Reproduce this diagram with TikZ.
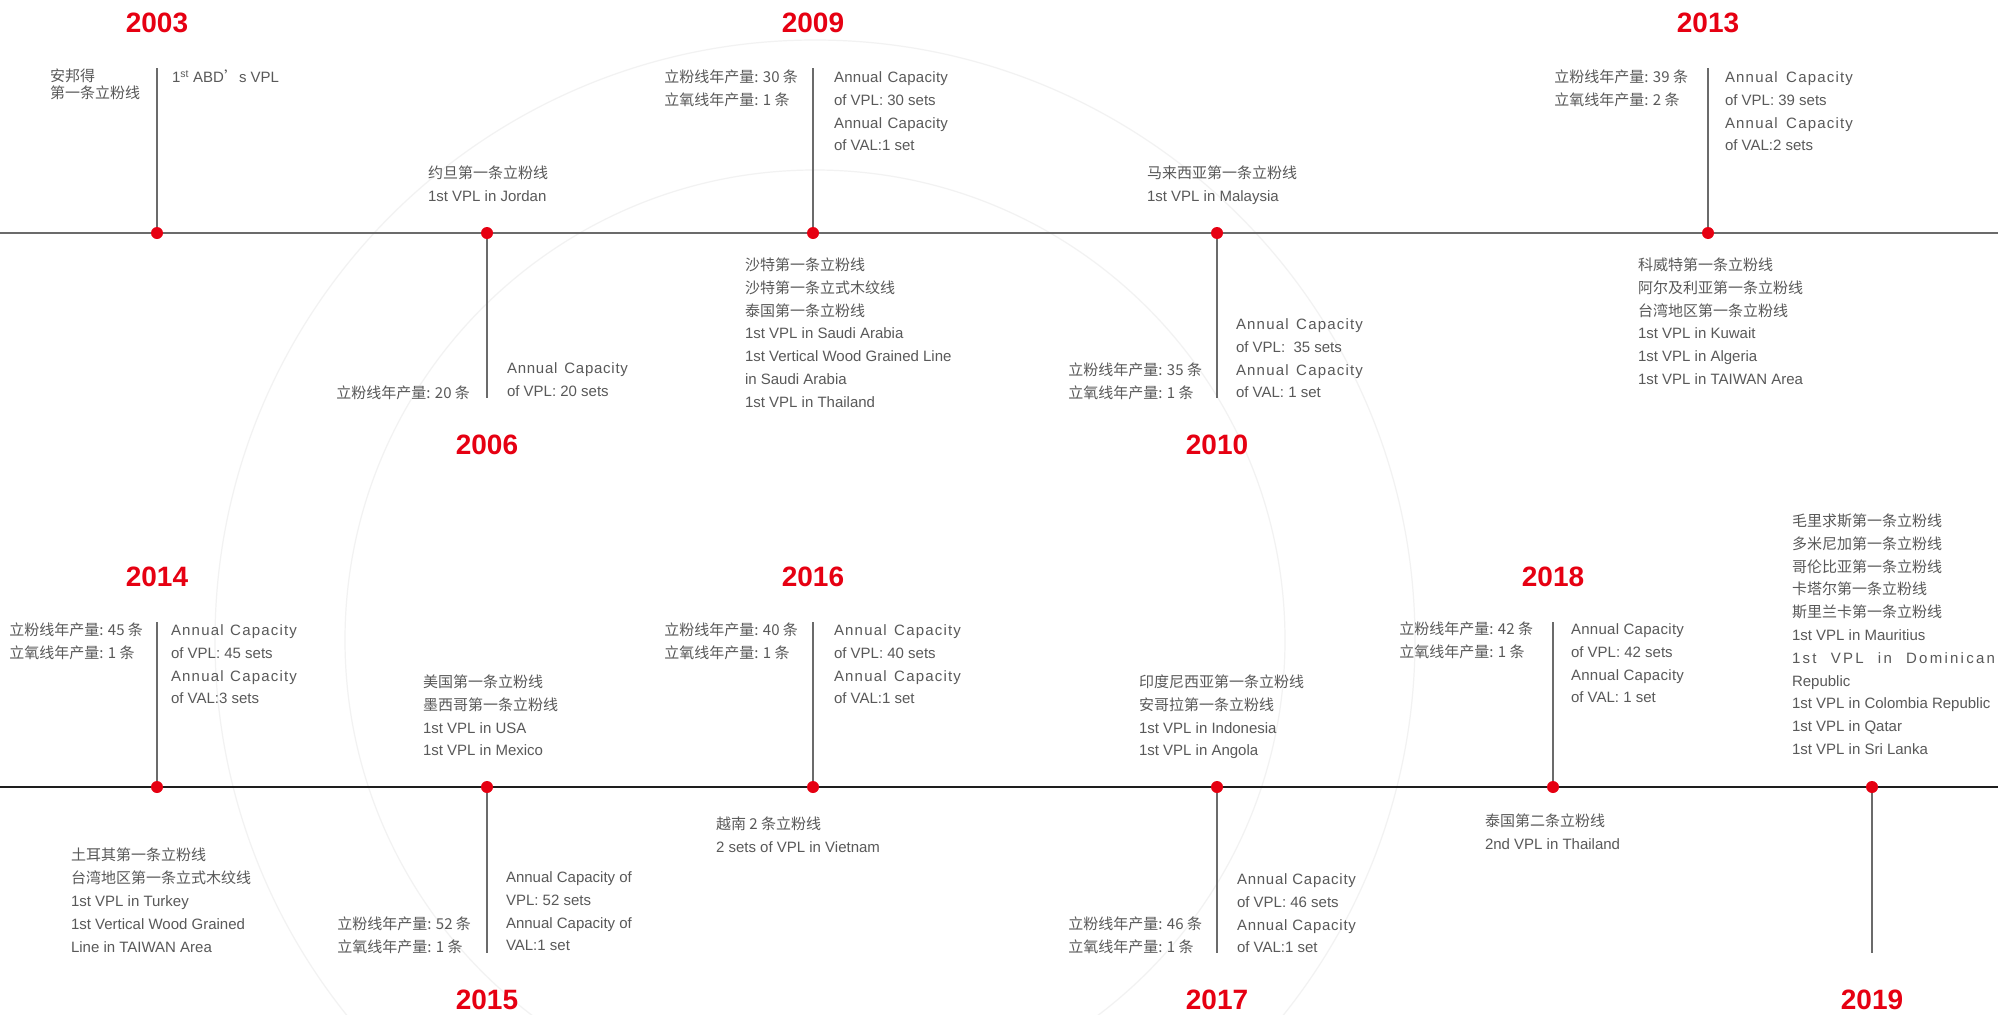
\documentclass[tikz,border=0pt]{standalone}
\usepackage{fontspec}
\setmainfont{Liberation Sans}
\newfontfamily\cjk{Noto Sans CJK SC}
\definecolor{tlred}{HTML}{E60012}
\definecolor{tltext}{HTML}{595959}
\definecolor{tlline}{HTML}{6B6B6B}
\definecolor{tldark}{HTML}{1E1E1E}
\newcommand\zh[1]{{\cjk #1}}
\newcommand\LB[2][22.8pt]{\vtop{\baselineskip=#1\lineskip=0pt\lineskiplimit=-40pt\halign{##\hfil\cr#2\crcr}}}
\newcommand\AC[2]{\makebox[#1][s]{\addfontfeature{LetterSpace=#2}Annual Capacity}}
\tikzset{
  txt/.style={inner sep=0pt, outer sep=0pt, text=tltext, font=\fontsize{15}{22.8}\selectfont},
  yr/.style={inner sep=0pt, outer sep=0pt, text=tlred, font=\fontsize{28}{30}\selectfont\bfseries},
  dot/.style={circle, fill=tlred, draw=none, inner sep=0pt, minimum size=12pt},
  vline/.style={draw=tlline, line width=2pt},
  axisone/.style={draw=tlline, line width=2pt},
  axistwo/.style={draw=tldark, line width=2pt},
  wmark/.style={draw=black!5, line width=1.2pt}
}
\begin{document}
\begin{tikzpicture}[x=1pt,y=-1pt]
\useasboundingbox (0,0) rectangle (1998,1015);
\fill[white] (0,0) rectangle (1998,1015);
% faint watermark rings
\coordinate (wc) at (815,640);
\draw[wmark] (wc) circle[radius=600pt];
\draw[wmark] (wc) circle[radius=470pt];

% ---------- axis coordinates ----------
\coordinate (a1L) at (0,233);   \coordinate (a1R) at (1998,233);
\coordinate (a2L) at (0,787);   \coordinate (a2R) at (1998,787);
\draw[axisone] (a1L) -- (a1R);
\draw[axistwo] (a2L) -- (a2R);

% ---------- row 1 points ----------
\coordinate (p03) at (157,233);  \coordinate (t03) at (157,68);
\coordinate (p06) at (487,233);  \coordinate (t06) at (487,398);
\coordinate (p09) at (813,233);  \coordinate (t09) at (813,68);
\coordinate (p10) at (1217,233); \coordinate (t10) at (1217,398);
\coordinate (p13) at (1708,233); \coordinate (t13) at (1708,68);
% ---------- row 2 points ----------
\coordinate (p14) at (157,787);  \coordinate (t14) at (157,622);
\coordinate (p15) at (487,787);  \coordinate (t15) at (487,953);
\coordinate (p16) at (813,787);  \coordinate (t16) at (813,622);
\coordinate (p17) at (1217,787); \coordinate (t17) at (1217,953);
\coordinate (p18) at (1553,787); \coordinate (t18) at (1553,622);
\coordinate (p19) at (1872,787); \coordinate (t19) at (1872,953);

\foreach \k in {03,06,09,10,13,14,15,16,17,18,19}{
  \draw[vline] (p\k) -- (t\k);
}
\foreach \k in {03,06,09,10,13,14,15,16,17,18,19}{
  \node[dot] (d\k) at (p\k) {};
}

% ---------- years ----------
\node[yr] (y03) at (157,23) {2003};
\node[yr] (y09) at (813,23) {2009};
\node[yr] (y13) at (1708,23) {2013};
\node[yr] (y06) at (487,445) {2006};
\node[yr] (y10) at (1217,445) {2010};
\node[yr] (y14) at (157,577) {2014};
\node[yr] (y16) at (813,577) {2016};
\node[yr] (y18) at (1553,577) {2018};
\node[yr] (y15) at (487,1000) {2015};
\node[yr] (y17) at (1217,1000) {2017};
\node[yr] (y19) at (1872,1000) {2019};

% ---------- row 1 texts ----------
\node[txt, anchor=base west] (c03zh) at (50,81.5) {\LB[17pt]{\zh{安邦得}\cr\zh{第一条立粉线}}};
\node[txt, anchor=base west] (c03en) at (172,82.5) {1\textsuperscript{st} ABD\zh{’}s VPL};

\node[txt, anchor=base west] (cjor) at (428,178.5) {\LB{\zh{约旦第一条立粉线}\cr 1st VPL in Jordan}};

\node[txt, anchor=base east] (c06zh) at (470,398) {\zh{立粉线年产量: 20 条}};
\node[txt, anchor=base west] (c06en) at (507,373.5) {\LB{\AC{121pt}{5}\cr of VPL: 20 sets}};

\node[txt, anchor=base east] (c09zh) at (798,82.5) {\LB{\zh{立粉线年产量: 30 条}\cr\zh{立氧线年产量: 1 条}}};
\node[txt, anchor=base west] (c09en) at (834,82.5) {\LB{\AC{114pt}{2}\cr of VPL: 30 sets\cr\AC{114pt}{2}\cr of VAL:1 set}};

\node[txt, anchor=base west] (csau) at (745,270.5) {\LB{\zh{沙特第一条立粉线}\cr\zh{沙特第一条立式木纹线}\cr\zh{泰国第一条立粉线}\cr 1st VPL in Saudi Arabia\cr 1st Vertical Wood Grained Line\cr in Saudi Arabia\cr 1st VPL in Thailand}};

\node[txt, anchor=base west] (cmal) at (1147,178.5) {\LB{\zh{马来西亚第一条立粉线}\cr 1st VPL in Malaysia}};

\node[txt, anchor=base east] (c10zh) at (1202,375.5) {\LB{\zh{立粉线年产量: 35 条}\cr\zh{立氧线年产量: 1 条}}};
\node[txt, anchor=base west] (c10en) at (1236,329.5) {\LB{\AC{127pt}{8}\cr of VPL:\ \ 35 sets\cr\AC{127pt}{8}\cr of VAL: 1 set}};

\node[txt, anchor=base east] (c13zh) at (1688,82.5) {\LB{\zh{立粉线年产量: 39 条}\cr\zh{立氧线年产量: 2 条}}};
\node[txt, anchor=base west] (c13en) at (1725,82.5) {\LB{\AC{128pt}{8}\cr of VPL: 39 sets\cr\AC{128pt}{8}\cr of VAL:2 sets}};

\node[txt, anchor=base west] (ckuw) at (1638,270.5) {\LB{\zh{科威特第一条立粉线}\cr\zh{阿尔及利亚第一条立粉线}\cr\zh{台湾地区第一条立粉线}\cr 1st VPL in Kuwait\cr 1st VPL in Algeria\cr 1st VPL in TAIWAN Area}};

% ---------- row 2 texts ----------
\node[txt, anchor=base east] (c14zh) at (143,635.5) {\LB{\zh{立粉线年产量: 45 条}\cr\zh{立氧线年产量: 1 条}}};
\node[txt, anchor=base west] (c14en) at (171,635.5) {\LB{\AC{126pt}{8}\cr of VPL: 45 sets\cr\AC{126pt}{8}\cr of VAL:3 sets}};

\node[txt, anchor=base west] (cusa) at (423,687.5) {\LB{\zh{美国第一条立粉线}\cr\zh{墨西哥第一条立粉线}\cr 1st VPL in USA\cr 1st VPL in Mexico}};

\node[txt, anchor=base west] (ctur) at (71,860.5) {\LB[23pt]{\zh{土耳其第一条立粉线}\cr\zh{台湾地区第一条立式木纹线}\cr 1st VPL in Turkey\cr 1st Vertical Wood Grained\cr Line in TAIWAN Area}};

\node[txt, anchor=base east] (c15zh) at (471,929.5) {\LB{\zh{立粉线年产量: 52 条}\cr\zh{立氧线年产量: 1 条}}};
\node[txt, anchor=base west] (c15en) at (506,882.5) {\LB{Annual Capacity of\cr VPL: 52 sets\cr Annual Capacity of\cr VAL:1 set}};

\node[txt, anchor=base east] (c16zh) at (798,635.5) {\LB{\zh{立粉线年产量: 40 条}\cr\zh{立氧线年产量: 1 条}}};
\node[txt, anchor=base west] (c16en) at (834,635.5) {\LB{\AC{127pt}{8}\cr of VPL: 40 sets\cr\AC{127pt}{8}\cr of VAL:1 set}};

\node[txt, anchor=base west] (cvie) at (716,829.5) {\LB{\zh{越南 2 条立粉线}\cr 2 sets of VPL in Vietnam}};

\node[txt, anchor=base west] (cind) at (1139,687.5) {\LB{\zh{印度尼西亚第一条立粉线}\cr\zh{安哥拉第一条立粉线}\cr 1st VPL in Indonesia\cr 1st VPL in Angola}};

\node[txt, anchor=base east] (c17zh) at (1202,929.5) {\LB{\zh{立粉线年产量: 46 条}\cr\zh{立氧线年产量: 1 条}}};
\node[txt, anchor=base west] (c17en) at (1237,884.5) {\LB{\AC{119pt}{5}\cr of VPL: 46 sets\cr\AC{119pt}{5}\cr of VAL:1 set}};

\node[txt, anchor=base east] (c18zh) at (1533,634.5) {\LB{\zh{立粉线年产量: 42 条}\cr\zh{立氧线年产量: 1 条}}};
\node[txt, anchor=base west] (c18en) at (1571,634.5) {\LB{\AC{113pt}{2}\cr of VPL: 42 sets\cr\AC{113pt}{2}\cr of VAL: 1 set}};

\node[txt, anchor=base west] (ctha) at (1485,826.5) {\LB{\zh{泰国第二条立粉线}\cr 2nd VPL in Thailand}};

\node[txt, anchor=base west] (c19) at (1792,526.5) {\LB{\zh{毛里求斯第一条立粉线}\cr\zh{多米尼加第一条立粉线}\cr\zh{哥伦比亚第一条立粉线}\cr\zh{卡塔尔第一条立粉线}\cr\zh{斯里兰卡第一条立粉线}\cr 1st VPL in Mauritius\cr\makebox[203pt][s]{\addfontfeature{LetterSpace=15}1st VPL in Dominican}\cr Republic\cr 1st VPL in Colombia Republic\cr 1st VPL in Qatar\cr 1st VPL in Sri Lanka}};
\end{tikzpicture}
\end{document}
